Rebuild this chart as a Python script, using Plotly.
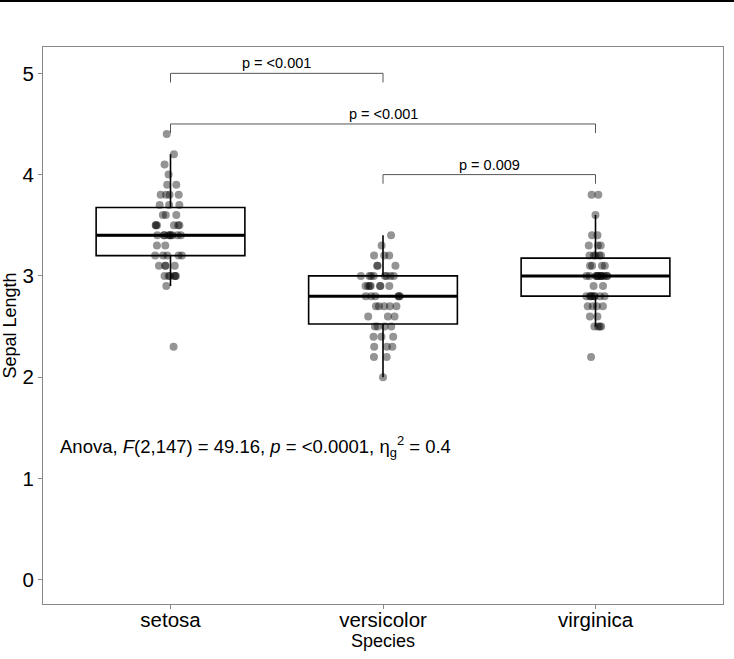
import numpy as np
import plotly.graph_objects as go

species = ["setosa", "versicolor", "virginica"]
setosa = [3.5,3.0,3.2,3.1,3.6,3.9,3.4,3.4,2.9,3.1,3.7,3.4,3.0,3.0,4.0,4.4,3.9,3.5,3.8,3.8,
          3.4,3.7,3.6,3.3,3.4,3.0,3.4,3.5,3.4,3.2,3.1,3.4,4.1,4.2,3.1,3.2,3.5,3.6,3.0,3.4,
          3.5,2.3,3.2,3.5,3.8,3.0,3.8,3.2,3.7,3.3]
versicolor = [3.2,3.2,3.1,2.3,2.8,2.8,3.3,2.4,2.9,2.7,2.0,3.0,2.2,2.9,2.9,3.1,3.0,2.7,2.2,2.5,
              3.2,2.8,2.5,2.8,2.9,3.0,2.8,3.0,2.9,2.6,2.4,2.4,2.7,2.7,3.0,3.4,3.1,2.3,3.0,2.5,
              2.6,3.0,2.6,2.3,2.7,3.0,2.9,2.9,2.5,2.8]
virginica = [3.3,2.7,3.0,2.9,3.0,3.0,2.5,2.9,2.5,3.6,3.2,2.7,3.0,2.5,2.8,3.2,3.0,3.8,2.6,2.2,
             3.2,2.8,2.8,2.7,3.3,3.2,2.8,3.0,2.8,3.0,2.8,3.8,2.8,2.8,2.6,3.0,3.4,3.1,3.0,3.1,
             3.1,3.1,2.7,3.2,3.3,3.0,2.5,3.0,3.4,3.0]
groups = [setosa, versicolor, virginica]

# pairwise comparisons: (group a, group b, bracket y, label)
comp_a = [0, 0, 1]
comp_b = [1, 2, 2]
comp_y = [5.0, 4.5, 4.0]
comp_labels = ["p = <0.001", "p = <0.001", "p = 0.009"]
anova_text = "Anova, <i>F</i>(2,147) = 49.16, <i>p</i> = <0.0001, η<sub>g</sub><sup>2</sup> = 0.4"
anova_pos = (-0.53, 1.32)

FONT = "Liberation Sans, Arial, sans-serif"
BOXW = 0.7

q1s, meds, q3s, lows, highs = [], [], [], [], []
for g in groups:
    a = np.array(g)
    q1, med, q3 = np.percentile(a, [25, 50, 75])
    iqr = q3 - q1
    lo = a[a >= q1 - 1.5 * iqr].min()
    hi = a[a <= q3 + 1.5 * iqr].max()
    q1s.append(q1); meds.append(med); q3s.append(q3); lows.append(lo); highs.append(hi)

fig = go.Figure()
fig.add_trace(go.Box(
    x=species, q1=q1s, median=meds, q3=q3s, lowerfence=lows, upperfence=highs,
    width=BOXW, fillcolor="rgba(0,0,0,0)", line=dict(color="black", width=1.6),
    whiskerwidth=0, boxpoints=False, showlegend=False, hoverinfo="skip"))

xs, ys = [], []
for s, g in zip(species, groups):
    xs += [s] * len(g)
    ys += g
fig.add_trace(go.Box(
    x=xs, y=ys, boxpoints="all", jitter=0.3, pointpos=0, width=BOXW,
    fillcolor="rgba(0,0,0,0)", line=dict(color="rgba(0,0,0,0)", width=0),
    marker=dict(color="rgba(0,0,0,0.42)", size=8), whiskerwidth=0,
    showlegend=False, hoverinfo="skip"))

shapes = []
for i, m in enumerate(meds):
    shapes.append(dict(type="line", xref="x", yref="y", x0=i - BOXW / 2, x1=i + BOXW / 2,
                       y0=m, y1=m, line=dict(color="black", width=3), layer="below"))

annotations = []
tip = 0.09
for a, b, yv, lab in zip(comp_a, comp_b, comp_y, comp_labels):
    shapes.append(dict(type="path", xref="x", yref="y",
                       path=f"M {a},{yv - tip} L {a},{yv} L {b},{yv} L {b},{yv - tip}",
                       line=dict(color="#555555", width=1)))
    annotations.append(dict(x=(a + b) / 2, y=yv, xref="x", yref="y", text=lab,
                            showarrow=False, yanchor="bottom", yshift=0,
                            font=dict(size=14.5, color="black", family=FONT)))

annotations.append(dict(x=anova_pos[0], y=anova_pos[1], xref="x", yref="y", text=anova_text,
                        showarrow=False, xanchor="left", yanchor="middle",
                        font=dict(size=18.5, color="black", family=FONT)))

# top page rule
shapes.append(dict(type="line", xref="paper", yref="paper", x0=-43 / 680, x1=1 + 11 / 680,
                   y0=1 + 46 / 557, y1=1 + 46 / 557, line=dict(color="black", width=2)))

fig.update_layout(
    width=734, height=659,
    margin=dict(l=43, r=11, t=47, b=55),
    paper_bgcolor="white", plot_bgcolor="white",
    boxmode="overlay",
    shapes=shapes, annotations=annotations,
    font=dict(family=FONT, color="black"),
    xaxis=dict(type="category", categoryorder="array", categoryarray=species,
               range=[-0.6, 2.6], showgrid=False, zeroline=False, automargin=False,
               showline=True, linecolor="#888888", linewidth=1, mirror=True,
               ticks="outside", ticklen=4, tickcolor="#888888", ticklabelstandoff=-7,
               tickfont=dict(size=20.5, color="black"),
               title=dict(text="Species", font=dict(size=18, color="black"), standoff=0)),
    yaxis=dict(range=[-0.24, 5.26], tickvals=[0, 1, 2, 3, 4, 5], showgrid=False,
               zeroline=False, showline=True, linecolor="#888888", linewidth=1, mirror=True,
               automargin=False,
               ticks="outside", ticklen=4, tickcolor="#888888",
               tickfont=dict(size=20.5, color="black"),
               title=dict(text="Sepal Length", font=dict(size=18, color="black"), standoff=4)),
)

fig.write_html("out.html")
